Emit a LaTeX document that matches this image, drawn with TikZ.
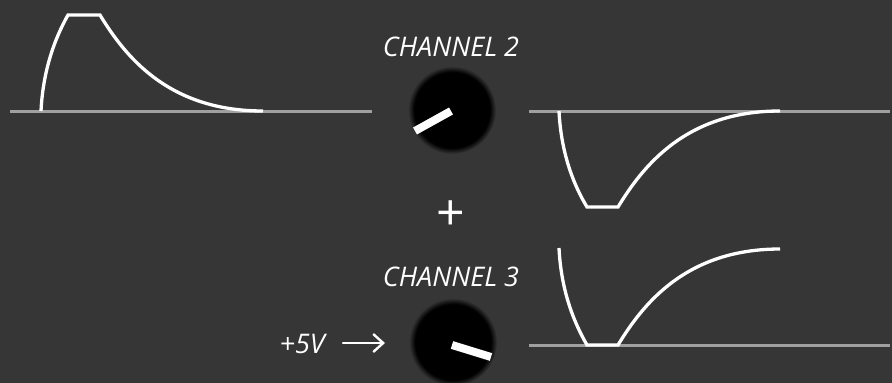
\documentclass[tikz,border=0pt]{standalone}
\usepackage{fontspec}
\setmainfont{Open Sans}
\usetikzlibrary{arrows.meta}
\definecolor{bgc}{HTML}{363636}
\definecolor{axisc}{HTML}{A0A0A0}
\pgfdeclareradialshading{knobshade}{\pgfpoint{0bp}{0bp}}{color(0bp)=(black); color(21.5bp)=(black); color(25bp)=(bgc); color(50bp)=(bgc)}
\tikzset{
  axisline/.style={draw=axisc, line width=3pt},
  envline/.style={draw=white, line width=3.3pt, line join=miter},
  label/.style={text=white, font=\fontsize{27}{31}\selectfont\itshape, inner sep=0pt},
  knob/.style={shading=knobshade},
  pointer/.style={draw=white, line width=8pt},
}
\begin{document}
\begin{tikzpicture}[x=1pt,y=-1pt]
\fill[bgc] (0,0) rectangle (892,383);
\useasboundingbox (0,0) rectangle (892,383);
% panel 1
\draw[axisline] (10,111) -- (372,111);
\draw[envline] (41,111) .. controls (43,70) and (55,38) .. (68,15) -- (100,15)
  .. controls (125,56) and (168,111) .. (263,111);
% panel 2
\draw[axisline] (529,111) -- (890,111);
\draw[envline] (559,111) .. controls (561,152) and (573,184) .. (587,207) -- (618,207)
  .. controls (643,166) and (686,111) .. (780,111);
% panel 3
\draw[axisline] (529,345) -- (890,345);
\draw[envline] (559,248) .. controls (561,289) and (573,321) .. (587,345) -- (618,345)
  .. controls (643,304) and (686,249) .. (780,249);
% knobs
\shade[knob] (452,110) circle (44);
\draw[pointer] (451,111) -- (415,131);
\shade[knob] (453,342) circle (44);
\draw[pointer] (452,345) -- (491,357);
% texts
\node[label] (ch2) at (451,47) {CHANNEL 2};
\node[label] (ch3) at (451,277) {CHANNEL 3};
\node[label] (plus) at (451,216) {\fontsize{50}{54}\selectfont\upshape +};
\node[label, anchor=east] (five) at (325,344) {+5V};
\coordinate (arrA) at (343,343);
\coordinate (arrB) at (385,343);
\draw[white, line width=2.4pt, line cap=round, -{Straight Barb[length=10pt,width=18pt,line width=2.4pt]}] (arrA) -- (arrB);
\end{tikzpicture}
\end{document}
